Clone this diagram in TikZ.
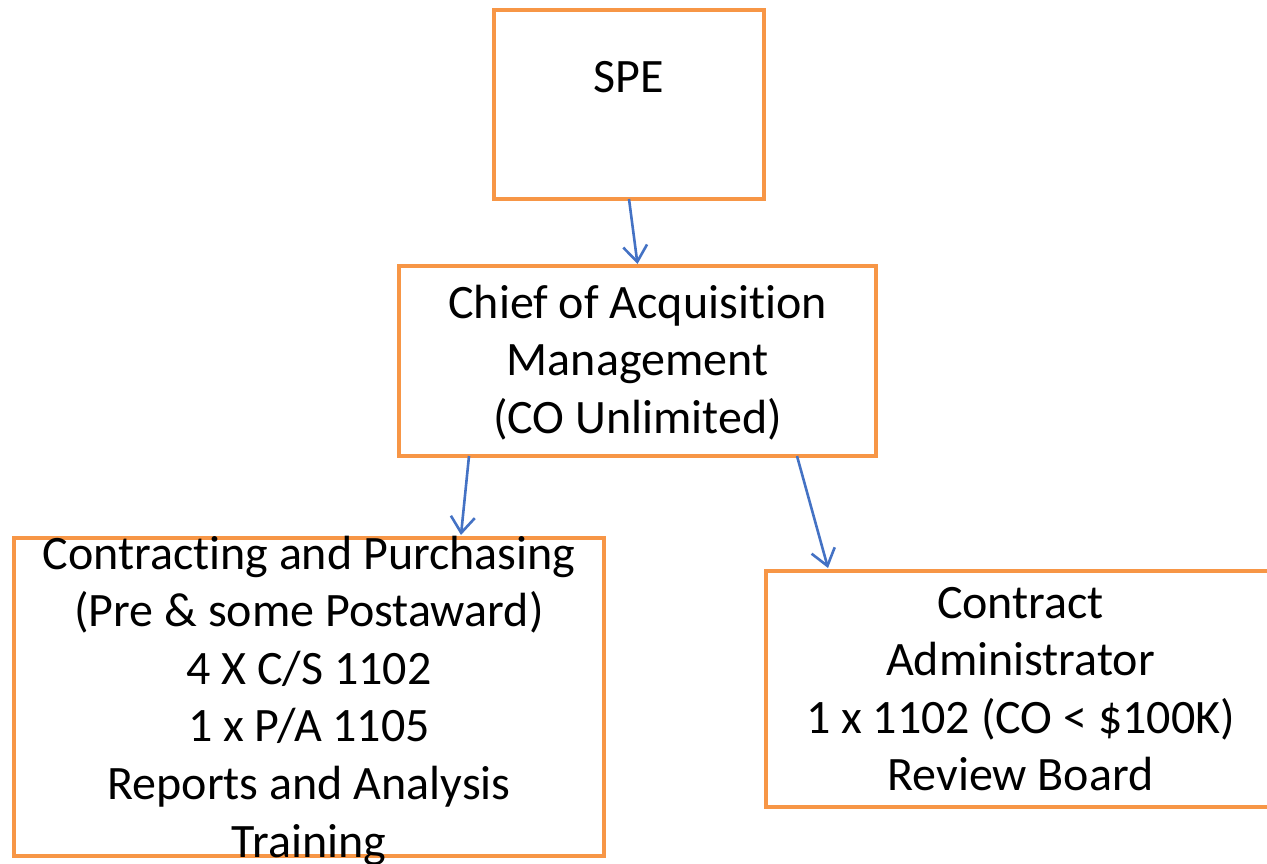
\documentclass[tikz,border=0pt]{standalone}
\usepackage{fontspec}
\setmainfont{Carlito}[Ligatures={NoCommon}]
\usetikzlibrary{arrows.meta}
\definecolor{boxorange}{HTML}{F79646}
\definecolor{linkblue}{HTML}{4472C4}
\tikzset{
  box/.style={draw=boxorange, line width=4pt, line join=miter, outer sep=0pt, inner sep=0pt, fill=none},
  label/.style={align=center, inner sep=0pt, outer sep=0pt, anchor=base,
    font=\fontsize{48}{57.6}\selectfont},
  link/.style={draw=linkblue, line width=2.6pt,
    -{Straight Barb[length=16pt, width=24pt, line width=2.6pt]}},
}
\begin{document}
\begin{tikzpicture}[x=1pt, y=-1pt]
  \useasboundingbox (0,0) rectangle (1267,863);
  % boxes
  \node[box, minimum width=270pt, minimum height=189pt] (spe) at (629,104.5) {};
  \node[box, minimum width=477pt, minimum height=190pt] (chief) at (637.5,361) {};
  \node[box, minimum width=590pt, minimum height=318pt] (cp) at (309,697) {};
  \node[box, minimum width=509pt, minimum height=236pt] (ca) at (1020.5,689) {};
  % texts (anchored at the baseline of their last line)
  \node[label] (speT) at (629,92) {SPE};
  \node[label] (chiefT) at (637.5,433.2) {Chief of Acquisition\\Management\\(CO Unlimited)};
  \node[label] (cpT) at (309,857) {Contracting and Purchasing\\(Pre \& some Postaward)\\4 X C/S 1102\\1 x P/A 1105\\Reports and Analysis\\Training};
  \node[label] (caT) at (1020.5,790.8) {Contract\\Administrator\\1 x 1102 (CO < \$100K)\\Review Board};
  % reporting links
  \draw[link] (spe.south) -- ([xshift=0pt, yshift=2pt]chief.north);
  \draw[link] ([xshift=70pt]chief.south west) -- ([xshift=447pt, yshift=3pt]cp.north west);
  \draw[link] ([xshift=398pt]chief.south west) -- ([xshift=62pt, yshift=3pt]ca.north west);
\end{tikzpicture}
\end{document}
